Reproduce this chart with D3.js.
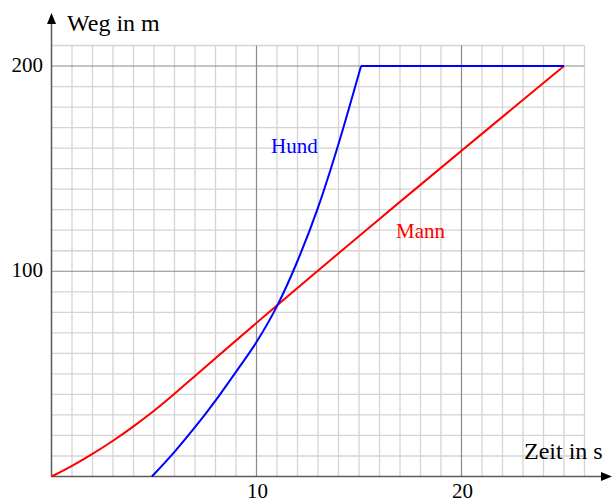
<!DOCTYPE html>
<html>
<head>
<meta charset="utf-8">
<script src="https://cdn.jsdelivr.net/npm/d3@7"></script>
<style>
    body { margin: 0; background: #fff; }
    svg { display: block; font-family: "Liberation Serif", "DejaVu Serif", serif; }
</style>
</head>
<body>
<div id="container"><svg></svg></div>
<script>
let width = 615, height = 502;

// axis ranges (s and m)
let x_max = 26, y_max = 210;
let x_ticks = [10, 20];
let y_ticks = [100, 200];

// Mann
let mann_t = [0, 1, 2, 3, 4, 5, 6, 7, 25];
let mann_s = [0, 5.2, 11, 17.4, 24.4, 32, 40.3, 49, 200];

// Hund: rising part, then waits at 200 m
let hund_t = [4.9, 6, 7, 8, 9, 10, 11, 12, 13, 14, 15, 15.1];
let hund_s = [0, 12, 24, 37, 51, 65.5, 83, 105, 131, 162, 196.5, 200];
let hund_wait_t = [15.1, 25];
let hund_wait_s = [200, 200];

let x, y; // scales

function draw_grid(svg) {
    let g = svg.append("g");
    // minor lines every 1 s / 10 m
    g.selectAll(".vx")
        .data(d3.range(1, x_max + 1).filter(d => d % 10 != 0))
        .join("line")
        .attr("x1", d => x(d)).attr("x2", d => x(d))
        .attr("y1", y(0)).attr("y2", y(y_max))
        .attr("stroke", "#d4d4d4").attr("stroke-width", 1.3);
    g.selectAll(".hy")
        .data(d3.range(10, y_max + 1, 10).filter(d => d % 100 != 0))
        .join("line")
        .attr("x1", x(0)).attr("x2", x(x_max))
        .attr("y1", d => y(d)).attr("y2", d => y(d))
        .attr("stroke", "#d4d4d4").attr("stroke-width", 1.3);
    // major lines
    g.selectAll(".mx")
        .data(x_ticks)
        .join("line")
        .attr("x1", d => x(d)).attr("x2", d => x(d))
        .attr("y1", y(0)).attr("y2", y(y_max))
        .attr("stroke", "#8a8a8a").attr("stroke-width", 1.2);
    g.selectAll(".my")
        .data(y_ticks)
        .join("line")
        .attr("x1", x(0)).attr("x2", x(x_max))
        .attr("y1", d => y(d)).attr("y2", d => y(d))
        .attr("stroke", "#8a8a8a").attr("stroke-width", 1.2);
}

function draw_axes(svg) {
    let g = svg.append("g").attr("fill", "#000");
    let x0 = x(0), y0 = y(0);
    g.append("line")
        .attr("x1", x0).attr("y1", y0).attr("x2", 604).attr("y2", y0)
        .attr("stroke", "#5a5a5a").attr("stroke-width", 1.5);
    g.append("line")
        .attr("x1", x0).attr("y1", y0).attr("x2", x0).attr("y2", 22)
        .attr("stroke", "#5a5a5a").attr("stroke-width", 1.5);
    // arrow heads
    g.append("path").attr("d", `M612,${y0} L601,${y0 - 4.5} L601,${y0 + 4.5} Z`);
    g.append("path").attr("d", `M${x0},13 L${x0 - 4.5},24 L${x0 + 4.5},24 Z`);

    g.selectAll(".xt")
        .data(x_ticks)
        .join("text")
        .attr("x", d => x(d) + 1)
        .attr("y", 498)
        .attr("text-anchor", "middle")
        .attr("font-size", 21)
        .text(d => d);
    g.selectAll(".yt")
        .data(y_ticks)
        .join("text")
        .attr("x", 43)
        .attr("y", d => y(d) + 6)
        .attr("text-anchor", "end")
        .attr("font-size", 21)
        .text(d => d);

    g.append("text").attr("x", 67).attr("y", 31).attr("font-size", 24).text("Weg in m");
    g.append("text").attr("x", 524).attr("y", 459).attr("font-size", 24).text("Zeit in s");
}

function draw_curves(svg) {
    let smooth = d3.line().x(d => x(d[0])).y(d => y(d[1])).curve(d3.curveMonotoneX);
    let straight = d3.line().x(d => x(d[0])).y(d => y(d[1]));

    svg.append("path")
        .datum(mann_t.map((t, i) => [t, mann_s[i]]))
        .attr("d", smooth)
        .attr("fill", "none").attr("stroke", "#ff0000").attr("stroke-width", 2);

    svg.append("path")
        .datum(hund_t.map((t, i) => [t, hund_s[i]]))
        .attr("d", smooth)
        .attr("fill", "none").attr("stroke", "#0000ff").attr("stroke-width", 2);
    svg.append("path")
        .datum(hund_wait_t.map((t, i) => [t, hund_wait_s[i]]))
        .attr("d", straight)
        .attr("fill", "none").attr("stroke", "#0000ff").attr("stroke-width", 2);

    svg.append("text").attr("x", 271).attr("y", 153).attr("font-size", 21)
        .attr("fill", "#0000ff").text("Hund");
    svg.append("text").attr("x", 396).attr("y", 238).attr("font-size", 21)
        .attr("fill", "#ff0000").text("Mann");
}

function main() {
    let svg = d3.select('#container').select('svg')
        .attr('width', width)
        .attr('height', height);

    x = d3.scaleLinear().domain([0, x_max]).range([51.5, 584.5]);
    y = d3.scaleLinear().domain([0, y_max]).range([476.5, 45.5]);

    draw_grid(svg);
    draw_axes(svg);
    draw_curves(svg);
}

main();
</script>
</body>
</html>
